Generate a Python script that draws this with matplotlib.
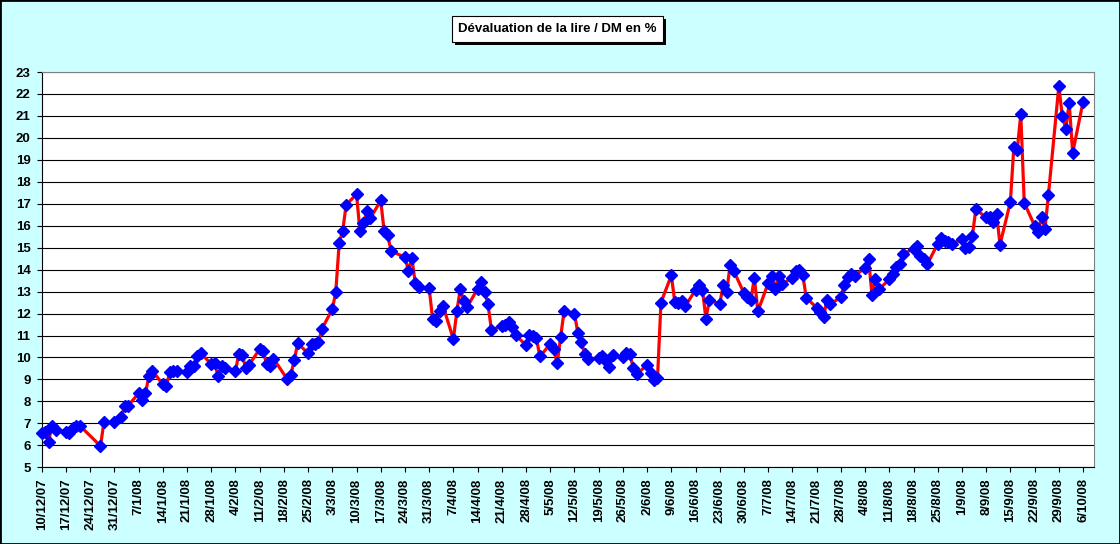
import matplotlib
matplotlib.use("Agg")
import matplotlib.pyplot as plt
import matplotlib.patheffects as pe
from matplotlib.patches import Rectangle
import pandas as pd

plt.rcParams['font.family'] = ['Liberation Sans', 'DejaVu Sans']
plt.rcParams['font.weight'] = 'bold'

# data: days since 10/12/2007 and devaluation in %
start = "2007-12-10"
last_label = "2008-10-06"
days = [0, 1, 2, 3, 4, 7, 8, 9, 10, 11, 17, 18, 21, 23, 24, 25, 28, 29, 30, 31,
        32, 35, 36, 37, 38, 39, 42, 43, 44, 45, 46, 49, 50, 51, 52, 53, 56, 57, 58, 59,
        60, 63, 64, 65, 66, 67, 71, 72, 73, 74, 77, 78, 79, 80, 81, 84, 85, 86, 87, 88,
        91, 92, 93, 94, 95, 98, 99, 100, 101, 105, 106, 107, 108, 109, 112, 113, 114, 115, 116, 119,
        120, 121, 122, 123, 126, 127, 128, 129, 130, 133, 134, 135, 136, 137, 140, 141, 142, 143, 144, 147,
        148, 149, 150, 151, 154, 155, 156, 157, 158, 161, 162, 163, 164, 165, 168, 169, 170, 171, 172, 175,
        176, 177, 178, 179, 182, 183, 184, 185, 186, 189, 190, 191, 192, 193, 196, 197, 198, 199, 200, 203,
        204, 205, 206, 207, 210, 211, 212, 213, 214, 217, 218, 219, 220, 221, 224, 225, 226, 227, 228, 231,
        232, 233, 234, 235, 238, 239, 240, 241, 242, 245, 246, 247, 248, 249, 252, 253, 254, 255, 256, 259,
        260, 261, 262, 263, 266, 267, 268, 269, 270, 273, 274, 275, 276, 277, 280, 281, 282, 283, 284, 287,
        288, 289, 290, 291, 294, 295, 296, 297, 298, 301]
values = [6.55, 6.62, 6.17, 6.90, 6.70, 6.62, 6.58, 6.80, 6.90, 6.90, 5.97, 7.05, 7.05, 7.28, 7.80, 7.80, 8.37, 8.07, 8.37, 9.16,
          9.40, 8.78, 8.68, 9.33, 9.38, 9.38, 9.35, 9.63, 9.63, 10.05, 10.20, 9.70, 9.73, 9.16, 9.60, 9.50, 9.38, 10.18, 10.10, 9.50,
          9.68, 10.38, 10.29, 9.71, 9.60, 9.95, 9.01, 9.19, 9.88, 10.65, 10.19, 10.60, 10.61, 10.69, 11.30, 12.20, 12.97, 15.22, 15.75, 16.94,
          17.44, 15.75, 16.12, 16.65, 16.34, 17.15, 15.74, 15.58, 14.85, 14.56, 13.96, 14.52, 13.38, 13.20, 13.16, 11.75, 11.64, 12.10, 12.35, 10.84,
          12.10, 13.13, 12.58, 12.30, 13.13, 13.43, 12.99, 12.44, 11.25, 11.45, 11.50, 11.62, 11.39, 11.02, 10.56, 11.02, 10.98, 10.87, 10.05, 10.61,
          10.38, 9.74, 10.93, 12.12, 12.00, 11.10, 10.70, 10.15, 9.93, 9.98, 10.05, 9.83, 9.57, 10.10, 10.02, 10.19, 10.15, 9.52, 9.24, 9.67,
          9.31, 8.97, 9.05, 12.50, 13.74, 12.53, 12.49, 12.56, 12.33, 13.08, 13.30, 13.08, 11.75, 12.63, 12.43, 13.32, 12.98, 14.22, 13.96, 12.93,
          12.75, 12.63, 13.64, 12.10, 13.39, 13.71, 13.13, 13.71, 13.35, 13.62, 13.93, 13.99, 13.76, 12.72, 12.27, 12.08, 11.85, 12.63, 12.43, 12.75,
          13.32, 13.65, 13.79, 13.73, 14.08, 14.50, 12.85, 13.56, 13.10, 13.56, 13.79, 14.13, 14.24, 14.73, 14.94, 15.06, 14.63, 14.50, 14.25, 15.18,
          15.44, 15.29, 15.24, 15.17, 15.38, 15.00, 15.05, 15.53, 16.74, 16.38, 16.39, 16.18, 16.55, 15.14, 17.09, 19.60, 19.47, 21.09, 17.05, 16.00,
          15.73, 16.39, 15.86, 17.42, 22.36, 21.00, 20.42, 21.59, 19.32, 21.64]
title = "Dévaluation de la lire / DM en %"

dates = pd.Timestamp(start) + pd.to_timedelta(days, unit="D")
weeks = pd.date_range(start, last_label, freq="7D")

fig = plt.figure(figsize=(11.2, 5.44), dpi=100, facecolor="#CCFFFF")
ax = fig.add_axes([0.0372, 0.141, 0.94, 0.7266])
ax.set_facecolor("white")

ax.plot(dates, values, color="#FF0000", lw=2.3, marker="D", ms=6,
        mfc="#0000FF", mec="#0000FF", zorder=3, clip_on=False)

ax.set_xticks(weeks)
ax.set_xticklabels([f"{d.day}/{d.month}/{d:%y}" for d in weeks], rotation=90)
ax.set_xlim(pd.Timestamp(start), pd.Timestamp(start) + pd.Timedelta(days=304.3))
ax.set_ylim(5, 23)
ax.set_yticks(range(5, 24))
ax.grid(axis="y", color="black", lw=0.8, zorder=1)
ax.set_axisbelow(True)
ax.tick_params(direction="out", length=3.5, width=0.8, labelsize=9.5, pad=4.5, colors="black")

for side in ["top", "right"]:
    ax.spines[side].set_color("#808080")
for side in ["left", "bottom"]:
    ax.spines[side].set_color("black")
    ax.spines[side].set_linewidth(0.8)

# title box with its drop shadow
t = fig.text(0.4978, 0.9467, title, ha="center", va="center", fontsize=9.5, fontweight="bold",
             color="black",
             bbox=dict(boxstyle="square,pad=0.5", fc="white", ec="black", lw=0.8))
t.get_bbox_patch().set_path_effects([
    pe.SimplePatchShadow(offset=(2.2, -2.2), shadow_rgbFace="black", alpha=1.0),
    pe.Normal()])

fig.patches.append(Rectangle((0, 0), 1, 1, transform=fig.transFigure, fill=False,
                             ec="black", lw=2))

fig.savefig("out.png", dpi=100, facecolor=fig.get_facecolor())
